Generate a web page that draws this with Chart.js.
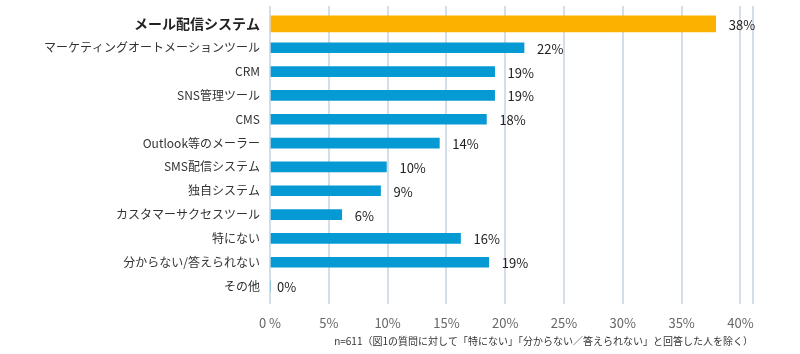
<!DOCTYPE html>
<html>
<head>
<meta charset="utf-8">
<script src="https://cdn.jsdelivr.net/npm/chart.js@4/dist/chart.umd.min.js"></script>
<style>
  html, body { margin: 0; padding: 0; background: #fff; }
  #wrap { width: 800px; height: 354px; }
</style>
</head>
<body>
<div id="wrap"><canvas id="myChart"></canvas></div>
<script>
let categories = [
    'メール配信システム',
    'マーケティングオートメーションツール',
    'CRM',
    'SNS管理ツール',
    'CMS',
    'Outlook等のメーラー',
    'SMS配信システム',
    '独自システム',
    'カスタマーサクセスツール',
    '特にない',
    '分からない/答えられない',
    'その他'
];
let values = [37.9, 21.6, 19.1, 19.1, 18.4, 14.4, 9.9, 9.4, 6.1, 16.2, 18.6, 0];
let tickValues = [0, 5, 10, 15, 20, 25, 30, 35, 40];
let axisMax = 41.07;
let footnote = 'n=611（図1の質問に対して「特にない」「分からない／答えられない」と回答した人を除く）';

let highlight = values.map((v, i) => i === 0 ? v : null);
let others = values.map((v, i) => i === 0 ? null : v);

Chart.defaults.font.family = '"Noto Sans CJK JP", "Noto Sans", sans-serif';

const gridColor = '#d5dee7';

function setTicks(scale) {
    scale.ticks = tickValues.concat([axisMax]).map(v => ({value: v}));
}

const valueLabels = {
    id: 'valueLabels',
    afterDatasetsDraw(chart) {
        const c = chart.ctx;
        c.save();
        c.font = '13px "Noto Sans CJK JP", sans-serif';
        c.fillStyle = '#222';
        c.textBaseline = 'middle';
        c.textAlign = 'left';
        chart.data.datasets.forEach((ds, di) => {
            chart.getDatasetMeta(di).data.forEach((el, i) => {
                let v = ds.data[i];
                if (v === null) return;
                let gap = v === 0 ? 7 : 13;
                c.fillText(Math.round(v) + '%', el.x + gap, el.y + 1);
            });
        });
        c.restore();
    }
};

let ctx = document.getElementById('myChart');
if (ctx !== null) {
    new Chart(ctx, {
        type: 'bar',
        data: {
            labels: categories,
            datasets: [{
                data: highlight,
                backgroundColor: '#fcb100',
                barThickness: 16,
                grouped: false
            }, {
                data: others,
                backgroundColor: '#069ad4',
                barThickness: 10,
                grouped: false
            }]
        },
        options: {
            indexAxis: 'y',
            responsive: true,
            maintainAspectRatio: false,
            animation: false,
            layout: {
                padding: {left: 0, right: 47, top: 0, bottom: 0}
            },
            plugins: {
                legend: {display: false},
                tooltip: {enabled: false},
                title: {
                    display: true,
                    position: 'bottom',
                    align: 'end',
                    text: footnote,
                    color: '#333',
                    font: {size: 10, weight: 'normal'},
                    padding: {top: 2, bottom: 7}
                }
            },
            scales: {
                x: {
                    min: 0,
                    max: axisMax,
                    afterBuildTicks: setTicks,
                    afterFit(scale) { scale.height = 35; },
                    grid: {
                        color: gridColor,
                        lineWidth: 2,
                        drawTicks: true,
                        tickLength: 6,
                        tickColor: gridColor
                    },
                    border: {display: false},
                    ticks: {
                        color: '#666',
                        font: {size: 13},
                        padding: 11,
                        maxRotation: 0,
                        autoSkip: false,
                        callback: (v) => v > 40 ? '' : (v === 0 ? '0 %' : v + '%')
                    }
                },
                x2: {
                    position: 'top',
                    axis: 'x',
                    min: 0,
                    max: axisMax,
                    afterBuildTicks: setTicks,
                    afterFit(scale) { scale.height = 12; },
                    grid: {
                        color: gridColor,
                        lineWidth: 2,
                        drawOnChartArea: false,
                        drawTicks: true,
                        tickLength: 6,
                        tickColor: gridColor
                    },
                    border: {display: false},
                    ticks: {display: false}
                },
                y: {
                    afterFit(scale) {
                        scale.width = 270;
                        scale.paddingTop = 0;
                        scale.paddingBottom = 0;
                    },
                    grid: {display: false, drawTicks: false},
                    border: {display: false},
                    ticks: {
                        padding: 10,
                        autoSkip: false,
                        color: (c) => c.index === 0 ? '#222' : '#333',
                        font: (c) => c.index === 0 ? {size: 14, weight: 'bold'} : {size: 12}
                    }
                }
            }
        },
        plugins: [valueLabels]
    });
}
</script>
</body>
</html>
